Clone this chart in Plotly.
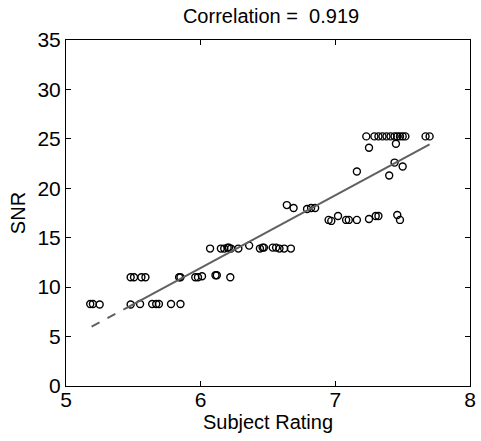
import plotly.graph_objects as go

# ---- data ----
rating = [
    # SNR ~8.3 row
    5.18, 5.20, 5.25, 5.48, 5.55, 5.64, 5.67, 5.69, 5.78, 5.85,
    # SNR ~11 row
    5.48, 5.505, 5.56, 5.59, 5.84, 5.85, 5.96, 5.98, 6.01, 6.11, 6.12, 6.22,
    # SNR ~14 row
    6.07, 6.15, 6.175, 6.20, 6.21, 6.225, 6.28, 6.36, 6.44, 6.46, 6.47,
    6.535, 6.56, 6.585, 6.62, 6.67,
    # SNR ~18 row
    6.64, 6.69, 6.79, 6.82, 6.85,
    # SNR ~17 row
    6.95, 6.97, 7.02, 7.08, 7.10, 7.16, 7.25, 7.30, 7.32, 7.46, 7.48,
    # SNR 21-24.5
    7.16, 7.40, 7.44, 7.50, 7.25, 7.45,
    # SNR ~25.2 row
    7.23, 7.29, 7.32, 7.35, 7.38, 7.41, 7.44, 7.46, 7.48, 7.50, 7.52, 7.67, 7.70,
]
snr = [
    8.3, 8.3, 8.25, 8.25, 8.3, 8.3, 8.3, 8.3, 8.3, 8.3,
    11.0, 11.0, 11.0, 11.0, 11.0, 11.0, 11.0, 11.0, 11.1, 11.2, 11.2, 11.0,
    13.9, 13.9, 13.9, 14.0, 14.0, 13.9, 13.9, 14.2, 13.9, 14.0, 14.0,
    14.0, 14.0, 13.9, 13.9, 13.9,
    18.3, 18.0, 17.9, 18.0, 18.0,
    16.8, 16.7, 17.2, 16.8, 16.8, 16.8, 16.9, 17.2, 17.2, 17.3, 16.8,
    21.7, 21.3, 22.6, 22.2, 24.1, 24.5,
    25.25, 25.25, 25.25, 25.25, 25.25, 25.25, 25.25, 25.25, 25.25, 25.25, 25.25, 25.25, 25.25,
]

fit_slope = 7.35
fit_intercept = -32.15
fit_x_dashed = [5.19, 5.43]
fit_x_solid = [5.43, 7.70]

x_ticks = [5, 6, 7, 8]
y_ticks = [0, 5, 10, 15, 20, 25, 30, 35]
title_text = "Correlation = \u00a00.919"
x_label = "Subject Rating"
y_label = "SNR"

FONT = "Arial, Liberation Sans, Helvetica, sans-serif"

fig = go.Figure()
fig.add_trace(go.Scatter(
    x=rating, y=snr, mode="markers",
    marker=dict(symbol="circle-open", size=7, color="black",
                line=dict(width=1.4, color="black")),
    showlegend=False, hoverinfo="skip"))
fig.add_trace(go.Scatter(
    x=fit_x_dashed, y=[fit_slope * v + fit_intercept for v in fit_x_dashed],
    mode="lines", line=dict(color="#606060", width=2, dash="dash"),
    showlegend=False, hoverinfo="skip"))
fig.add_trace(go.Scatter(
    x=fit_x_solid, y=[fit_slope * v + fit_intercept for v in fit_x_solid],
    mode="lines", line=dict(color="#606060", width=2),
    showlegend=False, hoverinfo="skip"))

axis_common = dict(
    showgrid=False, zeroline=False, showline=True, linecolor="black",
    linewidth=1, mirror="ticks", ticks="inside", ticklen=5, tickwidth=1,
    tickcolor="black", tickfont=dict(family=FONT, size=21, color="black"),
    ticklabeloverflow="allow",
)

fig.update_layout(
    width=481, height=441,
    margin=dict(l=66, r=5, t=40, b=55),
    paper_bgcolor="white", plot_bgcolor="white",
    font=dict(family=FONT, color="black"),
    title=dict(text=title_text, x=0.5635, xanchor="center",
               y=1 - 16 / 441, yanchor="middle", yref="container",
               font=dict(family=FONT, size=20, color="black")),
    xaxis=dict(range=[5, 8], tickvals=x_ticks, ticktext=[str(v) for v in x_ticks],
               ticklabelstandoff=-5,
               title=dict(text=x_label, font=dict(family=FONT, size=20), standoff=0),
               **axis_common),
    yaxis=dict(range=[0, 35], tickvals=y_ticks, ticktext=[str(v) for v in y_ticks],
               title=dict(text=y_label, font=dict(family=FONT, size=20), standoff=6),
               **axis_common),
)

fig.write_html(
    "out.html",
    config={"displayModeBar": False},
    post_script="document.body.style.margin='0';document.body.style.overflow='hidden';",
)
